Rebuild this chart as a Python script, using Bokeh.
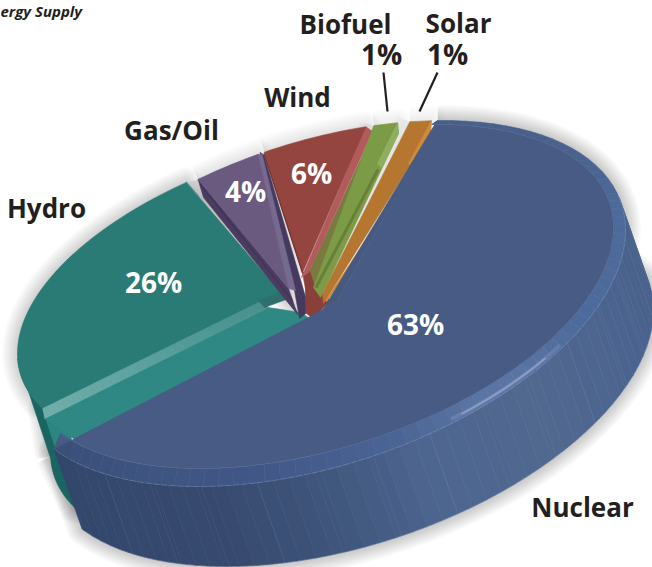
import math
from bokeh.plotting import figure
from bokeh.embed import file_html
from bokeh.resources import INLINE
from bokeh.core.properties import value

# ---- chart data ----
names = ["Nuclear", "Hydro", "Gas/Oil", "Wind", "Biofuel", "Solar"]
shares = [63, 26, 4, 6, 1, 1]
title_fragment = "ergy Supply"

# ---- layout of the tilted disc (pixel space of the picture) ----
W, H = 652, 567
T0 = -73.7
pad_start = [6.3, 5.6, 2.8, 1.6, 0.9, 4.3]
pad_end = [0.0, 0.2, 0.4, -0.6, 1.9, 5.0]
BASE = dict(cx=320, cy=303, X=305, Y=183, phi=113.6)
INNER = dict(cx=318, cy=296, X=295, Y=172, phi=113.6)
HYDRO = dict(cx=320, cy=290, X=303, Y=164, phi=112.5)
EXTRUDE = (28, 80)


def rim(t, e=BASE):
    r = math.radians(t)
    return (e["cx"] + e["X"] * math.cos(r),
            e["cy"] + e["Y"] * math.cos(r - math.radians(e["phi"])))


def arc(t0, t1, e=BASE, n=None):
    n = n or max(2, int(abs(t1 - t0) / 1.5) + 1)
    return [rim(t0 + (t1 - t0) * i / (n - 1), e) for i in range(n)]


def hexmix(stops, t):
    if t <= stops[0][0]:
        return stops[0][1]
    for (a, ca), (b, cb) in zip(stops, stops[1:]):
        if t <= b:
            f = (t - a) / (b - a)
            v = [round(int(ca[i:i + 2], 16) * (1 - f) + int(cb[i:i + 2], 16) * f) for i in (1, 3, 5)]
            return "#%02x%02x%02x" % tuple(v)
    return stops[-1][1]


total = sum(shares)
bounds = {}
acc = T0
for n_, s_, a_, b_ in zip(names, shares, pad_start, pad_end):
    sw = 360 * s_ / total
    bounds[n_] = (acc + a_, acc + sw + b_)
    acc += sw

p = figure(width=W, height=H, x_range=(0, W), y_range=(H, 0), output_backend="svg",
           toolbar_location=None, min_border=0, outline_line_color=None,
           background_fill_color="white", border_fill_color="white")
p.axis.visible = False
p.grid.visible = False


def poly(pts, color, alpha=1.0, lw=0.6):
    p.patch([q[0] for q in pts], [q[1] for q in pts], fill_color=color, fill_alpha=alpha,
            line_color=color, line_alpha=alpha, line_width=lw, line_join="round")


def seg(pts, color, width=1.0, alpha=1.0, dash="solid"):
    p.line([q[0] for q in pts], [q[1] for q in pts], line_color=color, line_width=width,
           line_alpha=alpha, line_dash=dash, line_join="round", line_cap="round")


def shadow(pts, a=0.022):
    xs = [q[0] for q in pts] + [pts[0][0]]
    ys = [q[1] for q in pts] + [pts[0][1]]
    for k in range(1, 10):
        p.line(xs, ys, line_color="#000000", line_alpha=a, line_width=k * 3.4, line_join="round")


def off(pt, v=EXTRUDE):
    return (pt[0] + v[0], pt[1] + v[1])


def lerp(a, b, f):
    return (a[0] + (b[0] - a[0]) * f, a[1] + (b[1] - a[1]) * f)


# ---- soft shadows ----
tn0, tn1 = bounds["Nuclear"]
th0, th1 = bounds["Hydro"]
tg0, tg1 = bounds["Gas/Oil"]
tw0, tw1 = bounds["Wind"]
tb0, tb1 = bounds["Biofuel"]
ts0, ts1 = bounds["Solar"]
nuclear_top = arc(tn0, tn1)
hydro_top = arc(th0, th1, HYDRO)
apex_n = [(308, 317), (337, 300)]
shadow(nuclear_top + [off(q) for q in arc(tn1, -12)])
shadow(hydro_top + [(297, 312)], 0.018)
shadow([(50, 456), (75, 508), rim(th0, HYDRO)])
shadow(arc(tg0, tg1) + [(288, 288), (203, 197)], 0.012)
shadow(arc(tw0, tw1) + [(302, 270)], 0.012)
shadow(arc(tb0, tb1) + [(320, 297)], 0.008)
shadow(arc(ts0, ts1) + [(323, 303)], 0.008)

# ---- Hydro ----
V_H = (33, 100)
poly(arc(th0, 178, HYDRO) + [off(q, V_H) for q in arc(178, th0, HYDRO)], "#1a6562")
a0 = rim(th0, HYDRO)
poly([(a0[0] + 3, a0[1] + 10), (70, 430), (78, 505), (72, 500)], "#2b8581")
poly(hydro_top + [(297, 312), (285, 295)], "#2a7a76")
strip_top = [a0, (262, 300)]
strip_low = [(a0[0] + 2, a0[1] + 10), (268, 307)]
poly([strip_low[0], strip_low[1], (300, 312), (320, 325), (90, 450)], "#2f8884")
N = 24
for i in range(N):
    f0, f1 = i / N, (i + 1) / N
    q = [lerp(*strip_top, f0), lerp(*strip_top, f1), lerp(*strip_low, f1), lerp(*strip_low, f0)]
    poly(q, hexmix([(0, "#6fada9"), (0.3, "#62a5a2"), (0.7, "#4f9895"), (1, "#4a8f8c")], f0))
poly([(258, 300), (283, 290), (291, 297), (264, 307)], "#2f6f6e")
seg([rim(th1, HYDRO), (198, 196)], "#3f908c", 1.4)

# ---- Gas/Oil ----
g0, g1 = rim(tg0), rim(tg1)
poly([g0, (203, 197), (297, 314), (288, 288)], "#4a3b60")
seg([(200, 184), (292, 300)], "#3a2d4e", 0.8)
poly([(g1[0] + 2, g1[1] - 2), (g1[0] + 6, g1[1] + 1), (309, 310), (299, 318), (294, 290)], "#46395f")
poly([g1, (g1[0] + 4, g1[1]), (295, 290), (288, 288)], "#776a90")
poly(arc(tg0, tg1) + [(288, 288)], "#6a5a80")

# ---- backing for the narrow slices ----
poly([(305, 275), (312, 285), (330, 300), (312, 318), (305, 312)], "#8a3f3b")
poly([(374, 126), (372, 133), (308, 272), (314, 290)], "#7a7a40")

# ---- Wind ----
w0, w1 = rim(tw0), rim(tw1)
poly([(302, 272), (309, 270), (319, 302), (309, 311)], "#8a3f3b")
poly([w1, (372, 131), (308, 272), (301, 277)], "#b25a5c")
poly(arc(tw0, tw1) + [(302, 272)], "#94453f")
seg([(w0[0], w0[1] + 2), (302, 272)], "#7a3530", 1.5)

# ---- Biofuel ----
b0, b1 = rim(tb0), rim(tb1)
poly([b0, b1, (398, 133), (320, 297), (313, 287)], "#7b9b47")
poly([b1, (398, 133), (381, 168), (377, 163)], "#90ae60")
seg([(377, 170), (316, 286)], "#697f38", 3.0)

# ---- Solar ----
s0, s1 = rim(ts0), rim(ts1)
poly([s0, s1, (430, 132), (323, 303), (322, 293)], "#b5762f")
poly([s1, (430, 132), (412, 168), (408, 163)], "#d08a3c")
seg([(416, 165), (326, 300)], "#cf8a3a", 2.2)

# ---- Nuclear ----
n_a = rim(tn0)
poly([(n_a[0] - 6, n_a[1] + 9), n_a, apex_n[1], (322, 310)], "#47597f")
side_stops = [(-15, "#466089"), (20, "#4b648f"), (45, "#51688f"), (70, "#4d6690"), (90, "#3f557b"),
              (110, "#37496f"), (155, "#32466b")]
ring_stops = [(-70, "#475e88"), (-30, "#4a628f"), (-10, "#4d6a9a"), (30, "#4d6a9c"), (48, "#5a74a4"), (58, "#5a74a4"),
              (72, "#4b6596"), (100, "#415787"), (150, "#3a4f78")]
step = 3
t = -12
while t < tn1:
    t2 = min(t + step, tn1)
    q0, q1 = rim(t), rim(t2)
    poly([q0, q1, off(q1), off(q0)], hexmix(side_stops, t))
    t = t2
for t in range(-8, 140, 11):
    q = rim(t)
    seg([q, off(q)], "#8c9cbb", 0.6, 0.22)
seg([off(q) for q in arc(5, tn1)], "#a7b5cf", 0.8, 0.3, "8 2")

t = tn0
step = 3
while t < tn1:
    t2 = min(t + step, tn1)
    poly([rim(t), rim(t2), rim(t2, INNER), rim(t, INNER)], hexmix(ring_stops, t))
    t = t2
seg(arc(-12, tn1), "#9fb0ce", 0.8, 0.4, "6 2")
poly(arc(tn0, tn1, INNER) + [rim(tn1)] + apex_n + [n_a], "#475b84")
seg(arc(tn0, tn1, INNER), "#6d80a6", 0.7, 0.5)
mid = dict(cx=319.6, cy=301.2, X=302.5, Y=180, phi=113.6)
seg(arc(38, 64, mid), "#7f91bc", 4.0, 0.45)
seg(arc(42, 62, mid), "#96a6ca", 1.8, 0.8)

# ---- leader lines ----
p.line([383, 387], [72, 111], line_color="#231f20", line_width=2.2)
p.line([437, 419], [72, 111], line_color="#231f20", line_width=2.2)

# ---- texts ----
FONT = value("Open Sans")
dark_x = [46, 171, 297, 345, 458, 582]
dark_y = [207, 129, 96, 23, 22, 506]
dark_t = ["Hydro", "Gas/Oil", "Wind", "Biofuel", "Solar", "Nuclear"]
p.text(dark_x, dark_y, text=dark_t, text_font=FONT, text_font_style="bold", text_font_size="26px",
       text_color="#231f20", text_align="center", text_baseline="middle")
p.text([381, 447], [53, 53], text=["%d%%" % shares[4], "%d%%" % shares[5]], text_font=FONT, text_font_style="bold",
       text_font_size="28px", text_color="#231f20", text_align="center", text_baseline="middle")
white_x = [415, 153, 245, 311]
white_y = [323, 281, 190, 172]
white_t = ["%d%%" % shares[0], "%d%%" % shares[1], "%d%%" % shares[2], "%d%%" % shares[3]]
p.text(white_x, white_y, text=white_t, text_font=FONT, text_font_style="bold", text_font_size="28px",
       text_color="white", text_align="center", text_baseline="middle")
p.text([0], [10], text=[title_fragment], text_font=FONT, text_font_style="bold italic", text_font_size="15px",
       text_color="#231f20", text_align="left", text_baseline="middle")

open("out.html", "w").write(file_html(p, INLINE))
